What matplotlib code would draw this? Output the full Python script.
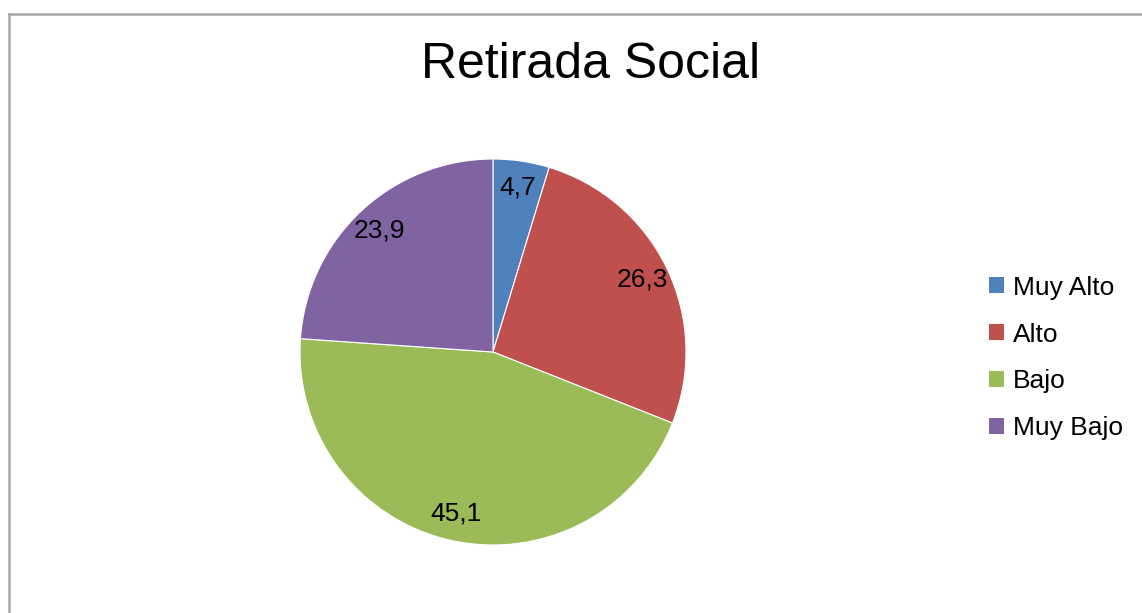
import matplotlib.pyplot as plt
from matplotlib.lines import Line2D
from matplotlib.patches import Patch

# Datos del gráfico
categorias = ['Muy Alto', 'Alto', 'Bajo', 'Muy Bajo']
valores = [4.7, 26.3, 45.1, 23.9]
colores = ['#4F81BD', '#C0504D', '#9BBB59', '#8064A2']
titulo = 'Retirada Social'

plt.rcParams['font.family'] = ['Liberation Sans', 'DejaVu Sans']

W, H = 1142, 613
fig = plt.figure(figsize=(W / 100, H / 100), dpi=100)
fig.patch.set_facecolor('white')

# Marco gris (solo borde superior e izquierdo visibles)
fig.add_artist(Line2D([9 / W, 1.01], [1 - 14 / H, 1 - 14 / H], color='#a6a6a6', lw=1.8))
fig.add_artist(Line2D([9 / W, 9 / W], [-0.01, 1 - 14 / H], color='#a6a6a6', lw=1.8))

# Eje del pastel
cx, cy, r = 493, 352, 193
ax = fig.add_axes([(cx - r) / W, (H - cy - r) / H, 2 * r / W, 2 * r / H])

def formato(p):
    return f'{p:.1f}'.replace('.', ',')

wedges, textos, autotextos = ax.pie(valores, colors=colores, startangle=90, counterclock=False,
                                    autopct=formato, pctdistance=0.86,
                                    wedgeprops=dict(edgecolor='white', linewidth=0.8),
                                    textprops=dict(fontsize=19, color='black'))
ax.set_xlim(-1, 1)
ax.set_ylim(-1, 1)
ax.set_aspect('equal')

fig.text(591 / W, 1 - 65 / H, titulo, fontsize=36, ha='center', va='center')

handles = [Patch(facecolor=c, edgecolor='none') for c in colores]
fig.legend(handles, categorias, loc='center left', bbox_to_anchor=(989 / W, 1 - 358 / H),
           frameon=False, fontsize=19, handlelength=0.55, handleheight=0.55,
           handletextpad=0.35, labelspacing=0.87, borderaxespad=0, borderpad=0)

fig.savefig('out.png', dpi=100)
